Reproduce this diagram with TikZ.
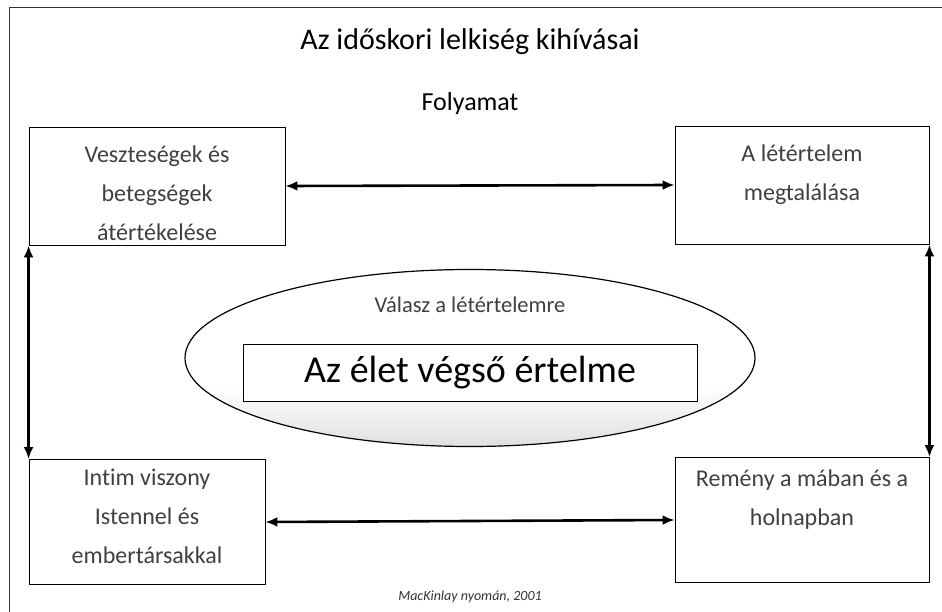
\documentclass[tikz,border=0pt]{standalone}
\usepackage{fontspec}
\setmainfont[Ligatures=NoCommon]{Carlito}
\usetikzlibrary{arrows.meta,shapes.geometric}
\pgfdeclareverticalshading{ellshade}{100bp}{color(0bp)=(black!28); color(20bp)=(black!16); color(42bp)=(white); color(100bp)=(white)}
\tikzset{
  stagebox/.style={draw, line width=0.9pt, inner sep=0pt, fill=white, text=black!75},
  dblarrow/.style={{Latex[length=12pt,width=10pt]}-{Latex[length=12pt,width=10pt]}, line width=2.6pt},
  boxfont/.style={font=\fontsize{24}{39}\selectfont}
}
\begin{document}
\begin{tikzpicture}[x=1pt,y=-1pt]
\useasboundingbox (0,0) rectangle (942,612);
\draw[line width=1pt, black!80] (9,612) -- (9,8) -- (942,8);
\node[font=\fontsize{30}{34}\selectfont] (title) at (470,42) {Az időskori lelkiség kihívásai};
\node[font=\fontsize{26}{30}\selectfont] (folyamat) at (470,104) {Folyamat};
% corner boxes
\node[stagebox, boxfont, minimum width=256pt, minimum height=118pt] (tl) at (157,186)
  {\parbox[c][100pt][c]{250pt}{\centering\vspace*{14pt}Veszteségek és\\betegségek\\átértékelése}};
\node[stagebox, boxfont, minimum width=254pt, minimum height=118pt] (tr) at (802,185)
  {\parbox[c][80pt][t]{250pt}{\centering A létértelem\\megtalálása}};
\node[stagebox, boxfont, minimum width=236pt, minimum height=125pt] (bl) at (147,522)
  {\parbox[c][110pt][c]{230pt}{\centering\vspace*{-12pt}Intim viszony\\Istennel és\\embertársakkal}};
\node[stagebox, boxfont, minimum width=254pt, minimum height=125pt] (br) at (802,520)
  {\parbox[c][100pt][t]{250pt}{\centering Remény a mában és a\\holnapban}};
% central ellipse
\node[ellipse, draw, line width=1.2pt, shading=ellshade, minimum width=570pt, minimum height=177pt] (ell) at (470,358) {};
\node[font=\fontsize{22.5}{26}\selectfont, text=black!75] (valasz) at (470,305) {Válasz a létértelemre};
\node[stagebox, line width=1pt, text=black, minimum width=454pt, minimum height=57pt, font=\fontsize{38}{42}\selectfont] (core) at (470,373) {Az élet végső értelme};
% connectors
\draw[dblarrow] (tl.east) -- (tr.west);
\draw[dblarrow] (bl.east) -- (br.west);
\draw[dblarrow] (tl.south west) -- (bl.north west);
\draw[dblarrow] (tr.south east) -- (br.north east);
\node[font=\fontsize{14}{16}\selectfont\itshape, text=black!80] (cap) at (470,597) {MacKinlay nyomán, 2001};
\end{tikzpicture}
\end{document}
